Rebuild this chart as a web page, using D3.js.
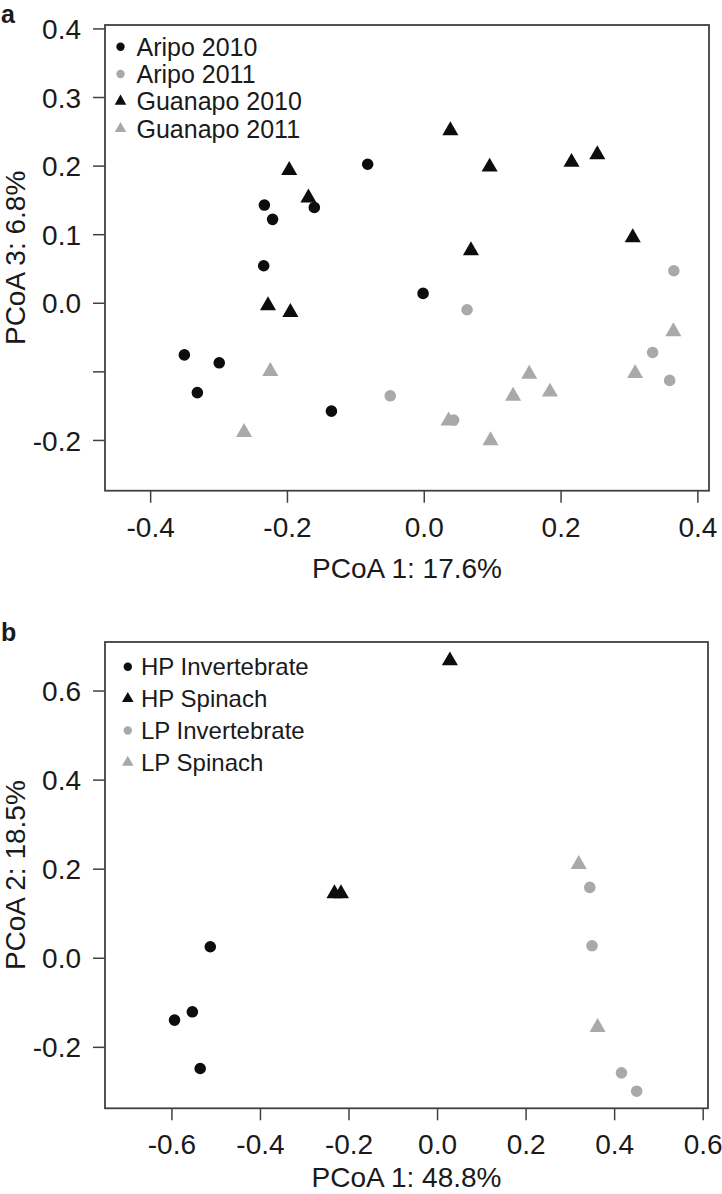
<!DOCTYPE html>
<html><head><meta charset="utf-8">
<script src="https://cdn.jsdelivr.net/npm/d3@7"></script>
<style>
body{margin:0;background:#fff}
svg text{font-family:"Liberation Sans",Arial,Helvetica,sans-serif;fill:#1a1a1a}
</style></head>
<body><svg id="chart" width="722" height="1194"></svg>
<script>
// ---------- Panel a data (PCoA 1 vs PCoA 3) ----------
const aripo2010 = [[-0.233,0.1425],[-0.221,0.1216],[-0.160,0.139],[-0.082,0.202],[-0.234,0.054],[-0.001,0.0137],[-0.350,-0.076],[-0.299,-0.0875],[-0.331,-0.131],[-0.135,-0.158]];
const aripo2011 = [[0.3656,0.0467],[0.0633,-0.0102],[-0.049,-0.1356],[0.0437,-0.171],[0.3346,-0.0724],[0.3595,-0.1132]];
const guanapo2010 = [[0.0389,0.251],[-0.1967,0.193],[-0.1686,0.153],[0.0963,0.198],[0.216,0.205],[0.2537,0.216],[0.3055,0.095],[0.069,0.076],[-0.2277,-0.004],[-0.195,-0.014]];
const guanapo2011 = [[0.3649,-0.042],[-0.2243,-0.100],[0.1542,-0.104],[0.309,-0.103],[0.1306,-0.136],[0.1845,-0.130],[-0.2627,-0.189],[0.0363,-0.172],[0.0976,-0.201]];
const legendA = ["Aripo 2010","Aripo 2011","Guanapo 2010","Guanapo 2011"];
const xTicksA = [-0.4,-0.2,0.0,0.2,0.4];
const xTickLabelsA = ["-0.4","-0.2","0.0","0.2","0.4"];
const yTicksA = [0.4,0.3,0.2,0.1,0.0,-0.1,-0.2];
const yTickLabelsA = ["0.4","0.3","0.2","0.1","0.0","","-0.2"];

// ---------- Panel b data (PCoA 1 vs PCoA 2) ----------
const hpInvertebrate = [[-0.5122,0.0247],[-0.5527,-0.1213],[-0.593,-0.140],[-0.535,-0.2486]];
const hpSpinach = [[0.029,0.667],[-0.2317,0.144],[-0.217,0.144]];
const lpInvertebrate = [[0.345,0.158],[0.350,0.027],[0.4166,-0.2584],[0.4509,-0.2996]];
const lpSpinach = [[0.320,0.210],[0.3626,-0.156]];
const legendB = ["HP Invertebrate","HP Spinach","LP Invertebrate","LP Spinach"];
const xTicksB = [-0.6,-0.4,-0.2,0.0,0.2,0.4,0.6];
const xTickLabelsB = ["-0.6","-0.4","-0.2","0.0","0.2","0.4","0.6"];
const yTicksB = [0.6,0.4,0.2,0.0,-0.2];
const yTickLabelsB = ["0.6","0.4","0.2","0.0","-0.2"];

const BLACK = "#0d0d0d", GRAY = "#a9a9a9", AXIS = "#404040";
const svg = d3.select("#chart");
const FS = 28;

function drawPanel(cfg) {
  const g = svg.append("g");
  const x = d3.scaleLinear().domain(cfg.xDomain).range([cfg.left, cfg.right]);
  const y = d3.scaleLinear().domain(cfg.yDomain).range([cfg.bottom, cfg.top]);

  // x axis
  const xa = g.append("g").attr("transform", `translate(0,${cfg.bottom})`)
    .call(d3.axisBottom(x).tickValues(cfg.xTicks).tickSize(12).tickSizeOuter(0)
      .tickFormat((d,i) => cfg.xLabels[i]));
  xa.select(".domain").remove();
  xa.selectAll(".tick line").attr("stroke", AXIS).attr("stroke-width", 1.5);
  xa.selectAll(".tick text").attr("y", 46).attr("dy", null)
    .style("font-size", FS + "px").attr("fill", "#1a1a1a");

  // y axis
  const ya = g.append("g").attr("transform", `translate(${cfg.left},0)`)
    .call(d3.axisLeft(y).tickValues(cfg.yTicks).tickSize(12).tickSizeOuter(0)
      .tickFormat((d,i) => cfg.yLabels[i]));
  ya.select(".domain").remove();
  ya.selectAll(".tick line").attr("stroke", AXIS).attr("stroke-width", 1.5);
  ya.selectAll(".tick text").attr("x", -24).attr("dy", "0.36em")
    .style("font-size", FS + "px").attr("fill", "#1a1a1a");

  // box
  g.append("rect").attr("x", cfg.left).attr("y", cfg.top)
    .attr("width", cfg.right - cfg.left).attr("height", cfg.bottom - cfg.top)
    .attr("fill", "none").attr("stroke", AXIS).attr("stroke-width", 1.8);

  // axis titles
  g.append("text").attr("x", (cfg.left + cfg.right) / 2).attr("y", cfg.xTitleY)
    .attr("text-anchor", "middle").style("font-size", FS + "px").text(cfg.xTitle);
  g.append("text").attr("transform", `translate(25,${(cfg.top + cfg.bottom) / 2}) rotate(-90)`)
    .attr("text-anchor", "middle").style("font-size", FS + "px").text(cfg.yTitle);

  // panel letter
  g.append("text").attr("x", 1).attr("y", cfg.letterY).style("font-size", "25px")
    .style("font-weight", "bold").attr("fill", "#000").text(cfg.letter);

  const circle = d3.symbol().type(d3.symbolCircle).size(Math.PI * 5.8 * 5.8);
  const tri = d3.symbol().type(d3.symbolTriangle).size(112);

  cfg.series.forEach(s => {
    g.append("g").selectAll("path").data(s.data).join("path")
      .attr("d", s.shape === "circle" ? circle : tri)
      .attr("transform", d => `translate(${x(d[0])},${y(d[1])})`)
      .attr("fill", s.color);
  });

  // legend
  const lcircle = d3.symbol().type(d3.symbolCircle).size(Math.PI * 4.2 * 4.2);
  const ltri = d3.symbol().type(d3.symbolTriangle).size(58);
  cfg.series.forEach((s, i) => {
    const cy = cfg.legendY + i * cfg.legendStep;
    g.append("path").attr("d", s.shape === "circle" ? lcircle : ltri)
      .attr("transform", `translate(${cfg.legendSymX},${cy})`).attr("fill", s.color);
    g.append("text").attr("x", cfg.legendTextX).attr("y", cy).attr("dy", "0.36em")
      .style("font-size", cfg.legendFS + "px").text(cfg.legend[i]);
  });
}

drawPanel({
  left: 105, right: 709, top: 25, bottom: 490.7,
  xDomain: [-0.466, 0.417], yDomain: [-0.274, 0.405],
  xTicks: xTicksA, xLabels: xTickLabelsA, yTicks: yTicksA, yLabels: yTickLabelsA,
  xTitle: "PCoA 1: 17.6%", xTitleY: 577.5, yTitle: "PCoA 3: 6.8%", letter: "a", letterY: 23,
  series: [
    {data: aripo2010, shape: "circle", color: BLACK},
    {data: aripo2011, shape: "circle", color: GRAY},
    {data: guanapo2010, shape: "triangle", color: BLACK},
    {data: guanapo2011, shape: "triangle", color: GRAY}
  ],
  legend: legendA, legendY: 46.7, legendStep: 27.3, legendSymX: 120.5, legendTextX: 136.5, legendFS: 25
});

drawPanel({
  left: 105, right: 708, top: 642, bottom: 1108.3,
  xDomain: [-0.750, 0.612], yDomain: [-0.338, 0.709],
  xTicks: xTicksB, xLabels: xTickLabelsB, yTicks: yTicksB, yLabels: yTickLabelsB,
  xTitle: "PCoA 1: 48.8%", xTitleY: 1187, yTitle: "PCoA 2: 18.5%", letter: "b", letterY: 641,
  series: [
    {data: hpInvertebrate, shape: "circle", color: BLACK},
    {data: hpSpinach, shape: "triangle", color: BLACK},
    {data: lpInvertebrate, shape: "circle", color: GRAY},
    {data: lpSpinach, shape: "triangle", color: GRAY}
  ],
  legend: legendB, legendY: 666.7, legendStep: 31.9, legendSymX: 127.8, legendTextX: 141, legendFS: 24
});
</script>
</body></html>
